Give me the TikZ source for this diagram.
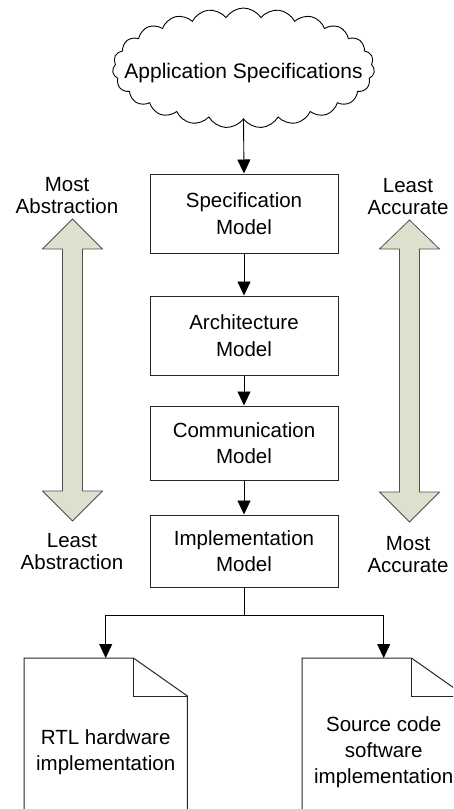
\documentclass[tikz,border=0pt]{standalone}
\usepackage{fontspec}
\setmainfont{Liberation Sans}
\usetikzlibrary{shapes.symbols, arrows.meta, calc}

\definecolor{arrowfill}{RGB}{221,224,204}
\definecolor{arrowline}{RGB}{80,80,80}

\tikzset{
  modelbox/.style={draw=black!85, line width=1pt, minimum width=188pt,
    align=center, inner sep=0pt, font=\fontsize{20.5}{26.5}\selectfont},
  sidelabel/.style={align=center, inner sep=0pt, font=\fontsize{20.5}{22}\selectfont},
  conn/.style={draw=black, line width=0.9pt, -{Triangle[width=13pt,length=14pt]}},
  plainline/.style={draw=black, line width=0.9pt},
  docframe/.style={minimum width=163pt, minimum height=188pt, inner sep=0pt,
    anchor=north west, align=center, font=\fontsize{20.5}{26}\selectfont},
  docline/.style={draw=black!85, line width=1pt},
  bigarrow/.style={draw=arrowline, line width=0.8pt, fill=arrowfill, line join=miter},
  specscloud/.style={cloud, draw=black, line width=0.9pt, cloud puffs=23,
    cloud puff arc=115, cloud ignores aspect, minimum width=262pt,
    minimum height=120pt, inner sep=0pt},
  cloudtext/.style={inner sep=0pt, font=\fontsize{21}{24}\selectfont}
}

\begin{document}
\begin{tikzpicture}[x=1pt, y=-1pt]
\useasboundingbox (0,0) rectangle (453,809);
\clip (0,0) rectangle (453,809);

% requirements cloud
\node[specscloud] (app) at (243.5,68) {};
\node[cloudtext] (apptext) at (243.5,73) {Application Specifications};

% refinement chain of models
\node[modelbox, minimum height=79pt] (spec) at (244,213.5) {Specification\\Model};
\node[modelbox, minimum height=79pt] (arch) at (244,335.5) {Architecture\\Model};
\node[modelbox, minimum height=74pt] (comm) at (244,443)   {Communication\\Model};
\node[modelbox, minimum height=72pt] (impl) at (244,551)   {Implementation\\Model};

% generated outputs
\node[docframe] (rtl) at (24,658)  {RTL hardware\\implementation};
\node[docframe] (sw)  at (302,658) {Source code\\software\\implementation};

\foreach \d in {rtl, sw} {
  \draw[docline] (\d.south west) -- (\d.north west)
    -- ($(\d.north east)+(-54,0)$) -- ($(\d.north east)+(0,38)$)
    -- (\d.south east) -- cycle;
  \draw[docline] ($(\d.north east)+(-54,0)$) -- ($(\d.north east)+(-54,38)$)
    -- ($(\d.north east)+(0,38)$);
}

% flow connectors
\draw[conn] (app.south) -- (spec.north);
\draw[conn] (spec.south) -- (arch.north);
\draw[conn] (arch.south) -- (comm.north);
\draw[conn] (comm.south) -- (impl.north);
\coordinate (split) at ($(impl.south)+(0,28)$);
\draw[plainline] (impl.south) -- (split);
\draw[conn] (split) -| (rtl.north);
\draw[conn] (split) -| (sw.north);

% abstraction scale
\draw[bigarrow] (72.5,219) -- (102.5,249) -- (82.5,249) -- (82.5,491)
  -- (102.5,491) -- (72.5,521) -- (42.5,491) -- (62.5,491) -- (62.5,249)
  -- (42.5,249) -- cycle;
\node[sidelabel] (absmost)  at (67,196)  {Most\\Abstraction};
\node[sidelabel] (absleast) at (72,552)  {Least\\Abstraction};

% accuracy scale
\draw[bigarrow] (409.5,220) -- (439.5,249) -- (419.5,249) -- (419.5,492)
  -- (439.5,492) -- (409.5,522) -- (379.5,492) -- (399.5,492) -- (399.5,249)
  -- (379.5,249) -- cycle;
\node[sidelabel] (accleast) at (408,196.5) {Least\\Accurate};
\node[sidelabel] (accmost)  at (408,555)   {Most\\Accurate};
\end{tikzpicture}
\end{document}
